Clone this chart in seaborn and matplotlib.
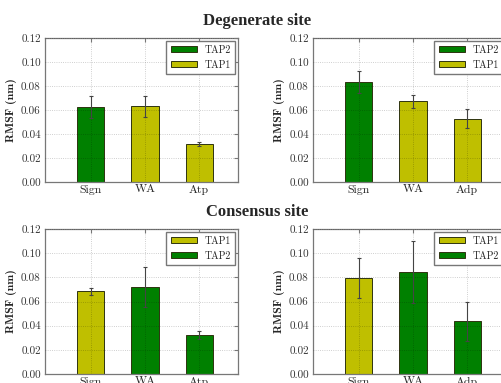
import matplotlib
matplotlib.use("Agg")
import matplotlib.pyplot as plt
import seaborn as sns
import pandas as pd

# RMSF per residue group, mean and spread
deg_left_res = ["Sign", "WA", "Atp"]
deg_left_tap = ["TAP2", "TAP1", "TAP1"]
deg_left_val = [0.0627, 0.0630, 0.0313]
deg_left_err = [0.0090, 0.0090, 0.0017]

deg_right_res = ["Sign", "WA", "Adp"]
deg_right_tap = ["TAP2", "TAP1", "TAP1"]
deg_right_val = [0.0832, 0.0671, 0.0527]
deg_right_err = [0.0091, 0.0058, 0.0078]

con_left_res = ["Sign", "WA", "Atp"]
con_left_tap = ["TAP1", "TAP2", "TAP2"]
con_left_val = [0.0684, 0.0720, 0.0323]
con_left_err = [0.0030, 0.0166, 0.0037]

con_right_res = ["Sign", "WA", "Adp"]
con_right_tap = ["TAP1", "TAP2", "TAP2"]
con_right_val = [0.0797, 0.0844, 0.0436]
con_right_err = [0.0165, 0.0260, 0.0160]

tap_colors = {"TAP1": (0.75, 0.75, 0.0), "TAP2": (0.0, 0.5, 0.0)}
y_ticks = [0.00, 0.02, 0.04, 0.06, 0.08, 0.10, 0.12]

sns.set_style("white")
plt.rcParams["font.family"] = ["cmr10", "DejaVu Serif"]
plt.rcParams["axes.formatter.use_mathtext"] = True

fig = plt.figure(figsize=(5.02, 3.83), dpi=100)

W, H = 502.0, 383.0
boxes = [
    (45, 38, 193, 144),
    (313, 38, 193, 144),
    (45, 229, 193, 145),
    (313, 229, 193, 145),
]
panels = [
    (deg_left_res, deg_left_tap, deg_left_val, deg_left_err),
    (deg_right_res, deg_right_tap, deg_right_val, deg_right_err),
    (con_left_res, con_left_tap, con_left_val, con_left_err),
    (con_right_res, con_right_tap, con_right_val, con_right_err),
]

for (x0, y0, w, h), (res, tap, val, err) in zip(boxes, panels):
    ax = fig.add_axes([x0 / W, 1 - (y0 + h) / H, w / W, h / H])
    df = pd.DataFrame({"residue": res, "tap": tap, "rmsf": val})
    sns.barplot(data=df, x="residue", y="rmsf", hue="tap", dodge=False,
                width=0.5, palette=tap_colors, saturation=1,
                edgecolor="#2e3310", linewidth=0.7, errorbar=None, ax=ax)
    ax.errorbar(range(len(res)), val, yerr=err, fmt="none",
                ecolor="#444444", elinewidth=0.8, capsize=1.2,
                capthick=0.8, zorder=4)
    ax.set_xlim(-0.85, 2.72)
    ax.set_ylim(0, 0.12)
    ax.set_yticks(y_ticks)
    ax.set_yticklabels([f"{t:.2f}" for t in y_ticks])
    ax.set_xlabel("")
    ax.set_ylabel("RMSF (nm)", fontsize=8.5, labelpad=3,
                  family=["cmb10", "DejaVu Serif"])
    ax.set_axisbelow(False)
    ax.grid(True, linestyle=":", color="black", linewidth=0.6, alpha=0.25)
    ax.tick_params(axis="y", labelsize=8, direction="in", length=3,
                   color="#777777", right=True, pad=3, labelcolor="#333333")
    ax.tick_params(axis="x", labelsize=8.5, direction="in", length=3,
                   color="#777777", top=True, pad=2)
    for s in ax.spines.values():
        s.set_color("#777777")
        s.set_linewidth(0.9)
    ax.legend(loc="upper right", fontsize=7.2, handlelength=2.6,
              handleheight=0.65, labelspacing=0.55, borderpad=0.45,
              handletextpad=0.8, fancybox=False, framealpha=1,
              edgecolor="#777777", borderaxespad=0.25)

fig.text(257 / W, 1 - 21 / H, "Degenerate site", ha="center", va="center",
         fontsize=12, fontweight="bold", family=["Liberation Serif"])
fig.text(257 / W, 1 - 212 / H, "Consensus site", ha="center", va="center",
         fontsize=12, fontweight="bold", family=["Liberation Serif"])

fig.savefig("out.png", dpi=100)
